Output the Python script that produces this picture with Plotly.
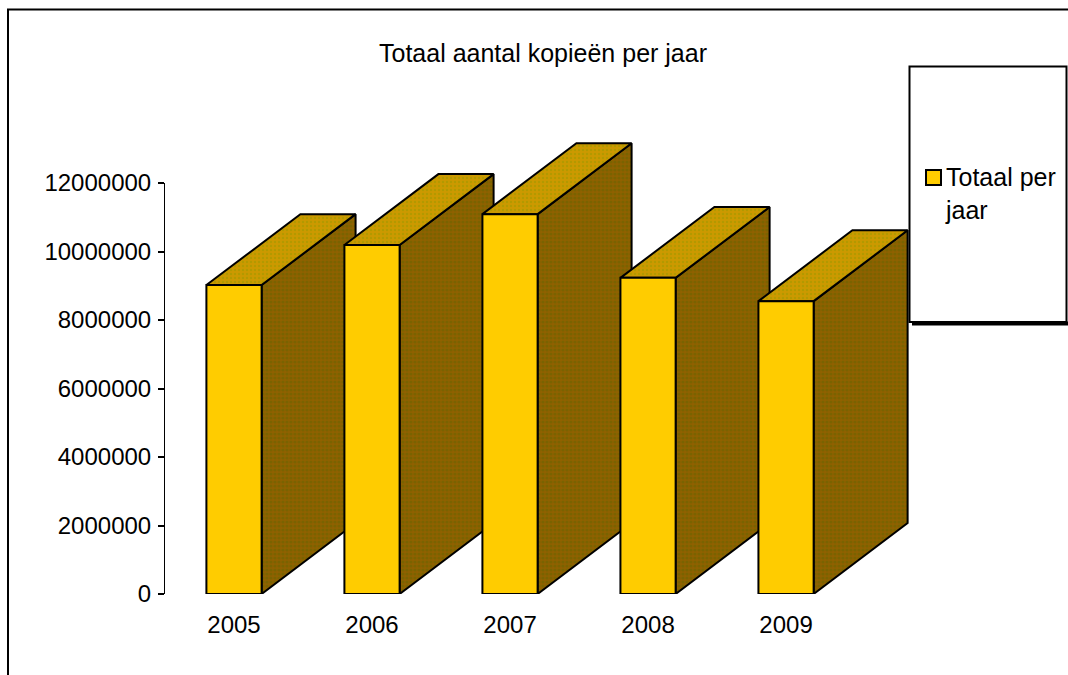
import plotly.graph_objects as go

# ---- data ----
years = ["2005", "2006", "2007", "2008", "2009"]
totals = [9020000, 10190000, 11090000, 9230000, 8550000]
y_ticks = [0, 2000000, 4000000, 6000000, 8000000, 10000000, 12000000]
title_text = "Totaal aantal kopieën per jaar"
series_name = "Totaal per<br>jaar"

# ---- geometry of the pseudo 3D look, in axis units ----
BAR_W = 0.40
DEPTH_X = 0.681
DEPTH_Y = 2070000

FONT = "Liberation Sans"
W, H = 1068, 675
L, R, T, B = 165, 909, 120, 594   # drawing area, taller than the value axis
AXIS_TOP = 183                    # pixel row of the 12000000 tick
xs = list(range(len(years)))
X_RANGE = [-0.5, 4.891]
Y_RANGE = [0, 12000000]
AXIS_FRACTION = (B - AXIS_TOP) / (B - T)
DEPTH_Y_RANGE = [0, Y_RANGE[1] / AXIS_FRACTION]


def px(v):
    return (v - L) / (R - L)


def py(v):
    return (B - v) / (B - T)


fig = go.Figure()

for i, v in zip(xs, totals):
    x0, x1 = i - BAR_W / 2, i + BAR_W / 2
    fig.add_trace(go.Scatter(
        x=[x1, x1 + DEPTH_X, x1 + DEPTH_X, x1, x1],
        y=[0, DEPTH_Y, v + DEPTH_Y, v, 0],
        mode="lines", fill="toself", cliponaxis=False, showlegend=False, hoverinfo="skip",
        line=dict(color="black", width=2),
        fillcolor="#7c6200",
        fillpattern=dict(shape=".", bgcolor="#8f6000", fgcolor="#666600", size=4, solidity=0.5),
    ))
    fig.add_trace(go.Scatter(
        x=[x0, x1, x1 + DEPTH_X, x0 + DEPTH_X, x0],
        y=[v, v, v + DEPTH_Y, v + DEPTH_Y, v],
        mode="lines", fill="toself", cliponaxis=False, showlegend=False, hoverinfo="skip",
        line=dict(color="black", width=2),
        fillcolor="#bf9b00",
        fillpattern=dict(shape=".", bgcolor="#cc9900", fgcolor="#999900", size=4, solidity=0.35),
    ))

fig.add_trace(go.Bar(
    x=xs, y=totals, width=BAR_W, xaxis="x2", yaxis="y2", name="Totaal per jaar",
    marker=dict(color="#FFCC00", line=dict(color="black", width=2)),
    cliponaxis=False, showlegend=False,
))

black2 = dict(color="black", width=2)
shapes = [
    # outer frame
    dict(type="line", xref="paper", yref="paper", x0=px(7), x1=px(1068), y0=py(9.5), y1=py(9.5), line=black2),
    dict(type="line", xref="paper", yref="paper", x0=px(8), x1=px(8), y0=py(9), y1=py(675), line=black2),
    # legend box
    dict(type="rect", xref="paper", yref="paper", x0=px(909.5), x1=px(1066.5), y0=py(66.5), y1=py(322),
         line=black2, fillcolor="white"),
    dict(type="line", xref="paper", yref="paper", x0=px(912), x1=px(1068), y0=py(323.5), y1=py(323.5),
         line=dict(color="black", width=4)),
    # legend swatch
    dict(type="rect", xref="paper", yref="paper", x0=px(926), x1=px(941), y0=py(170), y1=py(185),
         line=black2, fillcolor="#FFCC00"),
]

annotations = [dict(
    text=series_name, xref="paper", yref="paper", x=px(943), y=py(193),
    xanchor="left", yanchor="middle", align="left", showarrow=False,
    font=dict(family=FONT, size=25, color="black"),
)]

fig.update_layout(
    width=W, height=H,
    margin=dict(l=L, r=W - R, t=T, b=H - B, pad=0),
    paper_bgcolor="white", plot_bgcolor="rgba(0,0,0,0)",
    showlegend=False,
    title=dict(text=title_text, x=543 / W, y=1 - 53 / H, xref="container", yref="container",
               xanchor="center", yanchor="middle", font=dict(family=FONT, size=25, color="black")),
    xaxis=dict(range=X_RANGE, tickmode="array", tickvals=xs, ticktext=years, showgrid=False,
               zeroline=False, showline=False, ticks="", ticklabelstandoff=14,
               tickfont=dict(family=FONT, size=24, color="black")),
    yaxis=dict(range=DEPTH_Y_RANGE, visible=False),
    xaxis2=dict(range=X_RANGE, visible=False, anchor="y2", domain=[0, 1]),
    yaxis2=dict(range=Y_RANGE, domain=[0, AXIS_FRACTION], anchor="x2",
                tickmode="array", tickvals=y_ticks, ticktext=[str(t) for t in y_ticks],
                showgrid=False, zeroline=False, showline=True, linecolor="black", linewidth=1,
                ticks="outside", ticklen=6, tickwidth=2, tickcolor="black", ticklabelstandoff=2,
                tickfont=dict(family=FONT, size=24, color="black")),
    shapes=shapes, annotations=annotations,
)

fig.write_html(
    "out.html",
    config=dict(displayModeBar=False),
    post_script="document.body.style.margin='0';document.documentElement.style.overflow='hidden';",
)
